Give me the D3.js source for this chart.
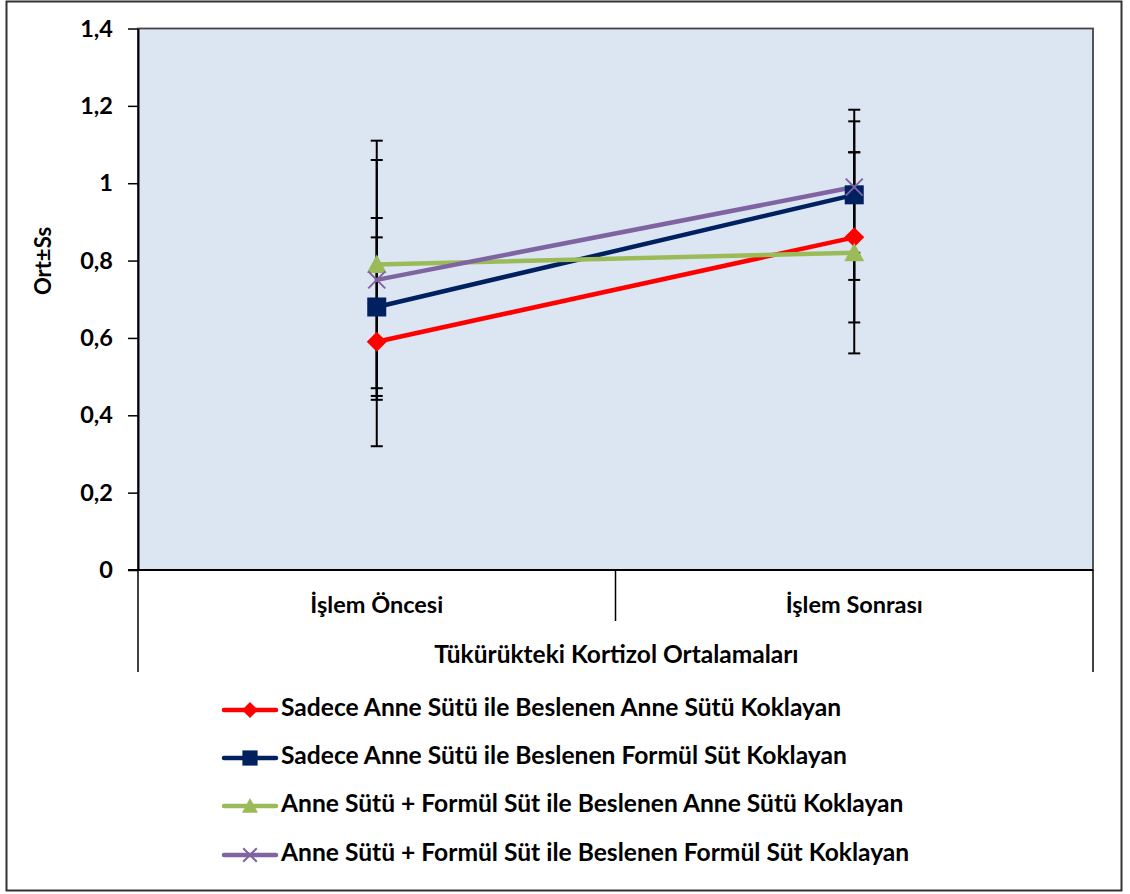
<!DOCTYPE html>
<html><head><meta charset="utf-8">
<script src="https://cdn.jsdelivr.net/npm/d3@7"></script>
<style>body{margin:0;background:#fff}svg{display:block}text{font-family:Lato,"Open Sans",sans-serif;font-weight:bold;fill:#000}</style>
</head><body><svg id="c" width="1130" height="894"></svg>
<script>
const categories = ["İşlem Öncesi", "İşlem Sonrası"];
const seriesNames = [
  "Sadece Anne Sütü ile Beslenen Anne Sütü Koklayan",
  "Sadece Anne Sütü ile Beslenen Formül Süt Koklayan",
  "Anne Sütü + Formül Süt ile Beslenen Anne Sütü Koklayan",
  "Anne Sütü + Formül Süt ile Beslenen Formül Süt Koklayan"
];
const meansRed = [0.59, 0.86];
const meansNavy = [0.68, 0.97];
const meansGreen = [0.79, 0.82];
const meansPurple = [0.75, 0.99];
const sdRed = [0.27, 0.22];
const sdNavy = [0.23, 0.22];
const sdGreen = [0.32, 0.26];
const sdPurple = [0.31, 0.17];
const yTicks = [0, 0.2, 0.4, 0.6, 0.8, 1, 1.2, 1.4];
const yTickLabels = ["0", "0,2", "0,4", "0,6", "0,8", "1", "1,2", "1,4"];
const yTitle = "Ort±Ss";
const xTitle = "Tükürükteki Kortizol Ortalamaları";

const colors = ["#ff0000", "#002060", "#9bbb59", "#8064a2"];
const shapes = ["diamond", "square", "triangle", "x"];
const series = [
  {name: seriesNames[0], m: meansRed, s: sdRed},
  {name: seriesNames[1], m: meansNavy, s: sdNavy},
  {name: seriesNames[2], m: meansGreen, s: sdGreen},
  {name: seriesNames[3], m: meansPurple, s: sdPurple}
].map((d, i) => ({...d, color: colors[i], shape: shapes[i]}));

const svg = d3.select("#c");
const L = 138, R = 1093, T = 28.5, B = 570;
const x = d3.scaleBand().domain(categories).range([L, R]).padding(0);
const cx = c => x(c) + x.bandwidth() / 2;
const y = d3.scaleLinear().domain([0, 1.4]).range([B, T]);

// outer frame
svg.append("rect").attr("x", 6.5).attr("y", 1.5).attr("width", 1115).attr("height", 889)
  .attr("fill", "#fff").attr("stroke", "#333").attr("stroke-width", 2);

// plot area
svg.append("rect").attr("x", L).attr("y", T).attr("width", R - L).attr("height", B - T)
  .attr("fill", "#dce6f2").attr("stroke", "#444").attr("stroke-width", 1.8);

// y axis
const yAxis = d3.axisLeft(y).tickValues(yTicks)
  .tickFormat((d, i) => yTickLabels[i]).tickSize(10).tickSizeOuter(0).tickPadding(15);
const gy = svg.append("g").attr("transform", `translate(${L},0)`).call(yAxis);
gy.select(".domain").attr("stroke", "#000").attr("stroke-width", 2);
gy.selectAll(".tick line").attr("stroke", "#000").attr("stroke-width", 1.5);
gy.selectAll(".tick text").style("font-size", "23.5px").style("font-family", "Lato,'Open Sans',sans-serif").style("font-weight", "bold").attr("fill", "#000");

// x axis line and category dividers
svg.append("line").attr("x1", 128).attr("x2", R).attr("y1", B).attr("y2", B)
  .attr("stroke", "#000").attr("stroke-width", 2);
const dividers = [L, R];
svg.selectAll(".div").data(dividers).join("line")
  .attr("x1", d => d).attr("x2", d => d).attr("y1", B).attr("y2", 672)
  .attr("stroke", "#000").attr("stroke-width", 1.5);
svg.append("line").attr("x1", x(categories[1])).attr("x2", x(categories[1]))
  .attr("y1", B).attr("y2", 621).attr("stroke", "#000").attr("stroke-width", 1.5);

svg.selectAll(".xl").data(categories).join("text")
  .attr("x", d => cx(d)).attr("y", 607).attr("text-anchor", "middle")
  .attr("dominant-baseline", "middle").style("font-size", "23.5px").text(d => d);
svg.append("text").attr("x", (L + R) / 2 + 1).attr("y", 657).attr("text-anchor", "middle")
  .attr("dominant-baseline", "middle").style("font-size", "24.5px").text(xTitle);

svg.append("text").attr("transform", "translate(45,261) rotate(-90)")
  .attr("text-anchor", "middle").attr("dominant-baseline", "middle")
  .style("font-size", "22px").text(yTitle);

// error bars
series.forEach(s => {
  categories.forEach((c, i) => {
    const g = svg.append("g").attr("stroke", "#000").attr("stroke-width", 2);
    const top = y(s.m[i] + s.s[i]), bot = y(s.m[i] - s.s[i]);
    g.append("line").attr("x1", cx(c)).attr("x2", cx(c)).attr("y1", top).attr("y2", bot);
    g.append("line").attr("x1", cx(c) - 6).attr("x2", cx(c) + 6).attr("y1", top).attr("y2", top);
    g.append("line").attr("x1", cx(c) - 6).attr("x2", cx(c) + 6).attr("y1", bot).attr("y2", bot);
  });
});

function marker(g, shape, color, px, py, size) {
  const h = size / 2;
  if (shape === "diamond") {
    g.append("path").attr("d", `M${px},${py - h}L${px + h},${py}L${px},${py + h}L${px - h},${py}Z`).attr("fill", color);
  } else if (shape === "square") {
    const k = h * 0.95;
    g.append("rect").attr("x", px - k).attr("y", py - k).attr("width", 2 * k).attr("height", 2 * k).attr("fill", color);
  } else if (shape === "triangle") {
    g.append("path").attr("d", `M${px},${py - h}L${px + h},${py + h * 0.85}L${px - h},${py + h * 0.85}Z`).attr("fill", color);
  } else {
    const k = h * 0.85;
    g.append("path").attr("d", `M${px - k},${py - k}L${px + k},${py + k}M${px - k},${py + k}L${px + k},${py - k}`)
      .attr("stroke", color).attr("stroke-width", 2).attr("fill", "none");
  }
}

const line = d3.line().x((d, i) => cx(categories[i])).y(d => y(d));
series.forEach(s => {
  svg.append("path").datum(s.m).attr("d", line).attr("fill", "none")
    .attr("stroke", s.color).attr("stroke-width", 4.5).attr("stroke-linecap", "round");
});
series.forEach(s => {
  const g = svg.append("g");
  s.m.forEach((v, i) => marker(g, s.shape, s.color, cx(categories[i]), y(v), 20));
});

// legend
const legendY = [710, 758, 806, 855];
series.forEach((s, i) => {
  const g = svg.append("g");
  g.append("line").attr("x1", 224).attr("x2", 276).attr("y1", legendY[i]).attr("y2", legendY[i])
    .attr("stroke", s.color).attr("stroke-width", 4.5).attr("stroke-linecap", "round");
  marker(g, s.shape, s.color, 250, legendY[i], 16);
  g.append("text").attr("x", 281).attr("y", legendY[i]).attr("dominant-baseline", "middle")
    .style("font-size", "24.6px").text(s.name);
});
</script></body></html>
